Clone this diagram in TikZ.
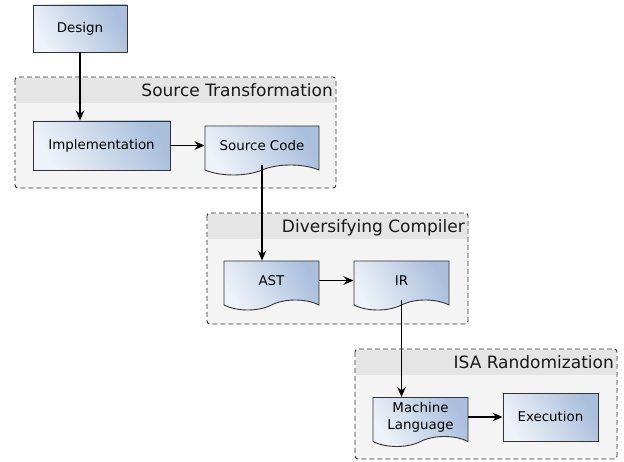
\documentclass[tikz,border=0pt]{standalone}
\usepackage{fontspec}
\setmainfont{DejaVu Sans}
\usetikzlibrary{arrows.meta,shapes.symbols}
\definecolor{boxlight}{HTML}{EEF2F9}
\definecolor{boxdark}{HTML}{AABFDC}
\definecolor{groupfill}{HTML}{F4F4F4}
\definecolor{grouphead}{HTML}{E5E5E5}

\begin{document}
\begin{tikzpicture}[>={Stealth[length=10pt,width=8.5pt]}, x=1pt, y=-1pt,
  stepbox/.style={draw=black!80, line width=0.9pt, left color=boxlight,
    right color=boxdark, shading angle=120, align=center,
    font=\fontsize{13.4}{17}\selectfont, inner sep=2pt},
  proc/.style={stepbox, rectangle},
  doc/.style={stepbox, tape, tape bend top=none, tape bend bottom=in and out,
    tape bend height=10pt, minimum height=49pt},
  flow/.style={->, line width=1.2pt},
  group/.style={draw=black!80, line width=0.9pt, dash pattern=on 5pt off 3pt,
    rounded corners=3pt},
  grouptitle/.style={anchor=base east, inner sep=0pt, text=black!90,
    font=\fontsize{17}{20}\selectfont}]
  \useasboundingbox (0,0) rectangle (624,462);

  % stage boxes
  \foreach \xa/\ya/\xb/\yb/\title in {15/77/336/188/Source Transformation,
      207/213/468/324/Diversifying Compiler,
      355/349/617/459/ISA Randomization} {
    \fill[groupfill, rounded corners=3pt] (\xa,\ya) rectangle (\xb,\yb);
    \fill[grouphead] (\xa+1,\ya+1) rectangle (\xb-1,\ya+26);
    \draw[group] (\xa,\ya) rectangle (\xb,\yb);
    \node[grouptitle] at (\xb-3,\ya+20) {\title};
  }

  \node[proc, minimum width=94pt, minimum height=47pt] (design) at (80,28.5) {Design};
  \node[proc, minimum width=137pt, minimum height=49pt] (impl) at (101.5,145.5) {Implementation};
  \node[doc, minimum width=114pt] (srccode) at (262,145.5) {Source Code};
  \node[doc, minimum width=95pt] (ast) at (271.5,280.5) {AST};
  \node[doc, minimum width=95pt] (ir) at (401.5,280.5) {IR};
  \node[doc, minimum width=95pt] (mach) at (420.5,417) {Machine\\Language};
  \node[proc, minimum width=95pt, minimum height=48pt] (exec) at (550.5,417) {Execution};

  \draw[flow] (design.south) -- (design.south |- impl.north);
  \draw[flow] (impl.east) -- (srccode.west);
  \draw[flow] (srccode.south) -- (srccode.south |- ast.north);
  \draw[flow] (ast.east) -- (ir.west);
  \draw[flow] (ir.south) -- (ir.south |- mach.north);
  \draw[flow] (mach.east) -- (mach.east -| exec.west);
\end{tikzpicture}
\end{document}
